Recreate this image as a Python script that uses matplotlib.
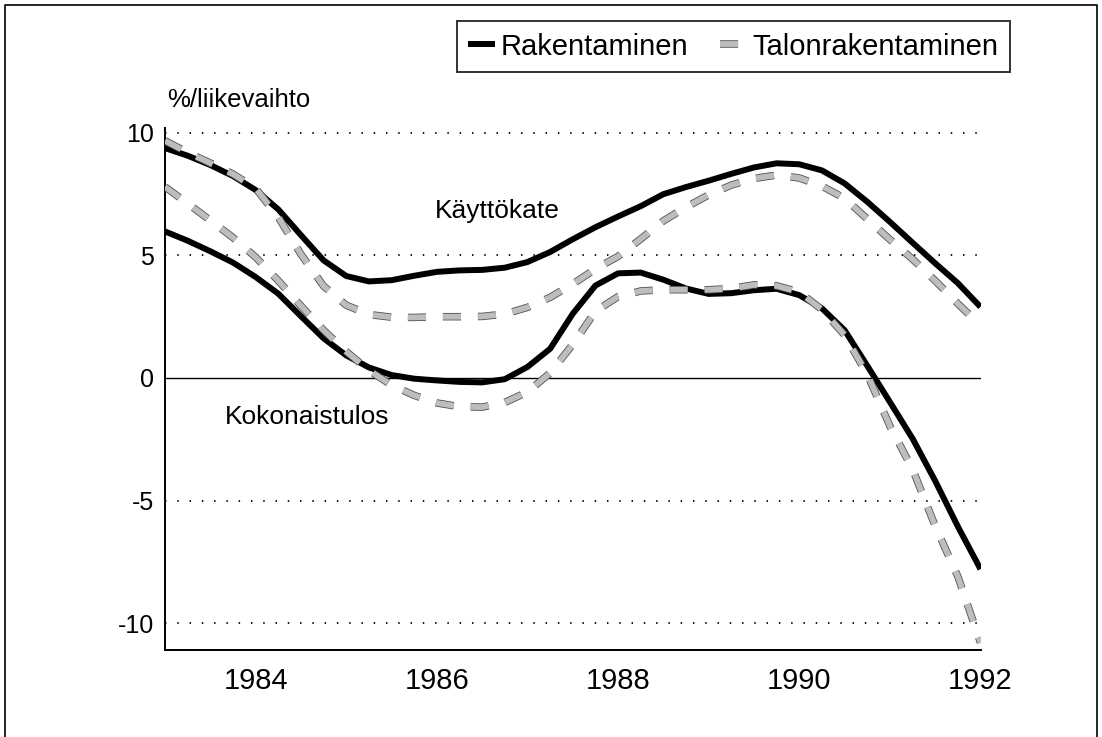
import matplotlib
matplotlib.use("Agg")
import matplotlib.pyplot as plt
import matplotlib.patheffects as pe
from matplotlib.lines import Line2D

plt.rcParams['font.family'] = ['Liberation Sans', 'DejaVu Sans']

# --- data ---
years = [1983.0, 1983.25, 1983.5, 1983.75, 1984.0, 1984.25, 1984.5, 1984.75, 1985.0, 1985.25,
         1985.5, 1985.75, 1986.0, 1986.25, 1986.5, 1986.75, 1987.0, 1987.25, 1987.5, 1987.75,
         1988.0, 1988.25, 1988.5, 1988.75, 1989.0, 1989.25, 1989.5, 1989.75, 1990.0, 1990.25,
         1990.5, 1990.75, 1991.0, 1991.25, 1991.5, 1991.75, 1992.0]

rak_kayttokate = [9.38, 9.07, 8.69, 8.24, 7.67, 6.88, 5.83, 4.8, 4.16, 3.94,
                  3.99, 4.17, 4.33, 4.39, 4.41, 4.5, 4.73, 5.14, 5.66, 6.15,
                  6.59, 7.01, 7.5, 7.79, 8.05, 8.33, 8.59, 8.76, 8.72, 8.47,
                  7.94, 7.19, 6.37, 5.52, 4.68, 3.87, 2.9]

talo_kayttokate = [9.68, 9.2, 8.77, 8.32, 7.74, 6.56, 5.05, 3.75, 2.97, 2.59,
                   2.48, 2.47, 2.5, 2.5, 2.51, 2.61, 2.88, 3.29, 3.83, 4.45,
                   4.96, 5.67, 6.41, 6.97, 7.47, 7.87, 8.14, 8.28, 8.16, 7.83,
                   7.33, 6.49, 5.65, 4.85, 3.97, 3.03, 2.15]

rak_kokonaistulos = [5.98, 5.6, 5.17, 4.71, 4.12, 3.44, 2.52, 1.62, 0.92, 0.43,
                     0.12, -0.03, -0.1, -0.16, -0.18, -0.05, 0.45, 1.19, 2.62, 3.77,
                     4.27, 4.3, 4.01, 3.65, 3.43, 3.46, 3.58, 3.64, 3.38, 2.84,
                     1.95, 0.5, -0.98, -2.47, -4.2, -6.06, -7.8]

talo_kokonaistulos = [7.8, 7.12, 6.43, 5.73, 4.93, 3.97, 2.94, 1.95, 1.08, 0.31,
                      -0.29, -0.71, -1.02, -1.17, -1.19, -1.0, -0.57, 0.2, 1.37, 2.72,
                      3.32, 3.55, 3.6, 3.6, 3.6, 3.65, 3.8, 3.76, 3.51, 2.79,
                      1.75, 0.15, -1.96, -3.72, -6.04, -8.1, -10.8]

xticks = [1984, 1986, 1988, 1990, 1992]
xtick_labels = ['1984', '1986', '1988', '1990', '1992']
yticks = [-10, -5, 0, 5, 10]
ytick_labels = ['-10', '-5', '0', '5', '10']
grid_levels = [-10, -5, 5, 10]

series_names = ['Rakentaminen', 'Talonrakentaminen']
label_kk = 'Käyttökate'
label_kt = 'Kokonaistulos'
ylabel = '%/liikevaihto'

# --- figure ---
W, H = 1102, 737
fig = plt.figure(figsize=(W / 100, H / 100), dpi=100)
fig.patch.set_facecolor('white')

# outer frame (left, top, right; bottom lies at the image edge)
fx = [5 / W, 5 / W, 1097 / W, 1097 / W]
fy = [0.0, 1 - 5 / H, 1 - 5 / H, 0.0]
fig.lines.append(Line2D(fx, fy, transform=fig.transFigure, color='black', linewidth=1.2))

ax = fig.add_axes([165 / W, (H - 650) / H, (980.5 - 165) / W, (650 - 128) / H])
ax.set_xlim(1983.0, 1992.0)
ax.set_ylim(-11.1, 10.2)

for g in grid_levels:
    ax.axhline(g, color='black', linewidth=1.3, linestyle=(0, (0.8, 6.0)), zorder=1)
ax.axhline(0, color='black', linewidth=1.0, zorder=1)

solid_kw = dict(color='black', linewidth=4.3, solid_capstyle='butt', solid_joinstyle='round', zorder=3)
dash_pe = [pe.Stroke(linewidth=5.4, foreground='#505050'), pe.Normal()]
dash_kw = dict(color='#bdbdbd', linewidth=4.2, dashes=(3.1, 2.9), dash_capstyle='butt', zorder=4,
               path_effects=dash_pe)

ax.plot(years, rak_kayttokate, **solid_kw)
ax.plot(years, rak_kokonaistulos, **solid_kw)
ax.plot(years, talo_kayttokate, **dash_kw)
ax.plot(years, talo_kokonaistulos, **dash_kw)

ax.set_xticks(xticks)
ax.set_xticklabels(xtick_labels)
ax.set_yticks(yticks)
ax.set_yticklabels(ytick_labels)
ax.tick_params(axis='both', length=0)
ax.tick_params(axis='x', pad=12, labelsize=21)
ax.tick_params(axis='y', pad=8, labelsize=18)

for s in ['top', 'right']:
    ax.spines[s].set_visible(False)
for s in ['left', 'bottom']:
    ax.spines[s].set_linewidth(1.4)
    ax.spines[s].set_color('black')

ax.text(1985.98, 6.53, label_kk, fontsize=19, va='baseline', ha='left')
ax.text(1983.66, -1.88, label_kt, fontsize=19, va='baseline', ha='left')
fig.text(167 / W, (H - 107) / H, ylabel, fontsize=18.5, va='baseline', ha='left')

handles = [Line2D([], [], **solid_kw),
           Line2D([], [], color='#bdbdbd', linewidth=4.2, dashes=(3.1, 2.9), dash_capstyle='butt',
                  path_effects=dash_pe)]
leg = fig.legend(handles, series_names, loc='upper right', bbox_to_anchor=(1010 / W, 1 - 21 / H),
                 ncol=2, frameon=True, fancybox=False, fontsize=21, handlelength=0.9,
                 handletextpad=0.2, columnspacing=1.1, borderpad=0.4, borderaxespad=0)
leg.get_frame().set_edgecolor('black')
leg.get_frame().set_linewidth(1.4)

fig.savefig('out.png', dpi=100, facecolor='white')
